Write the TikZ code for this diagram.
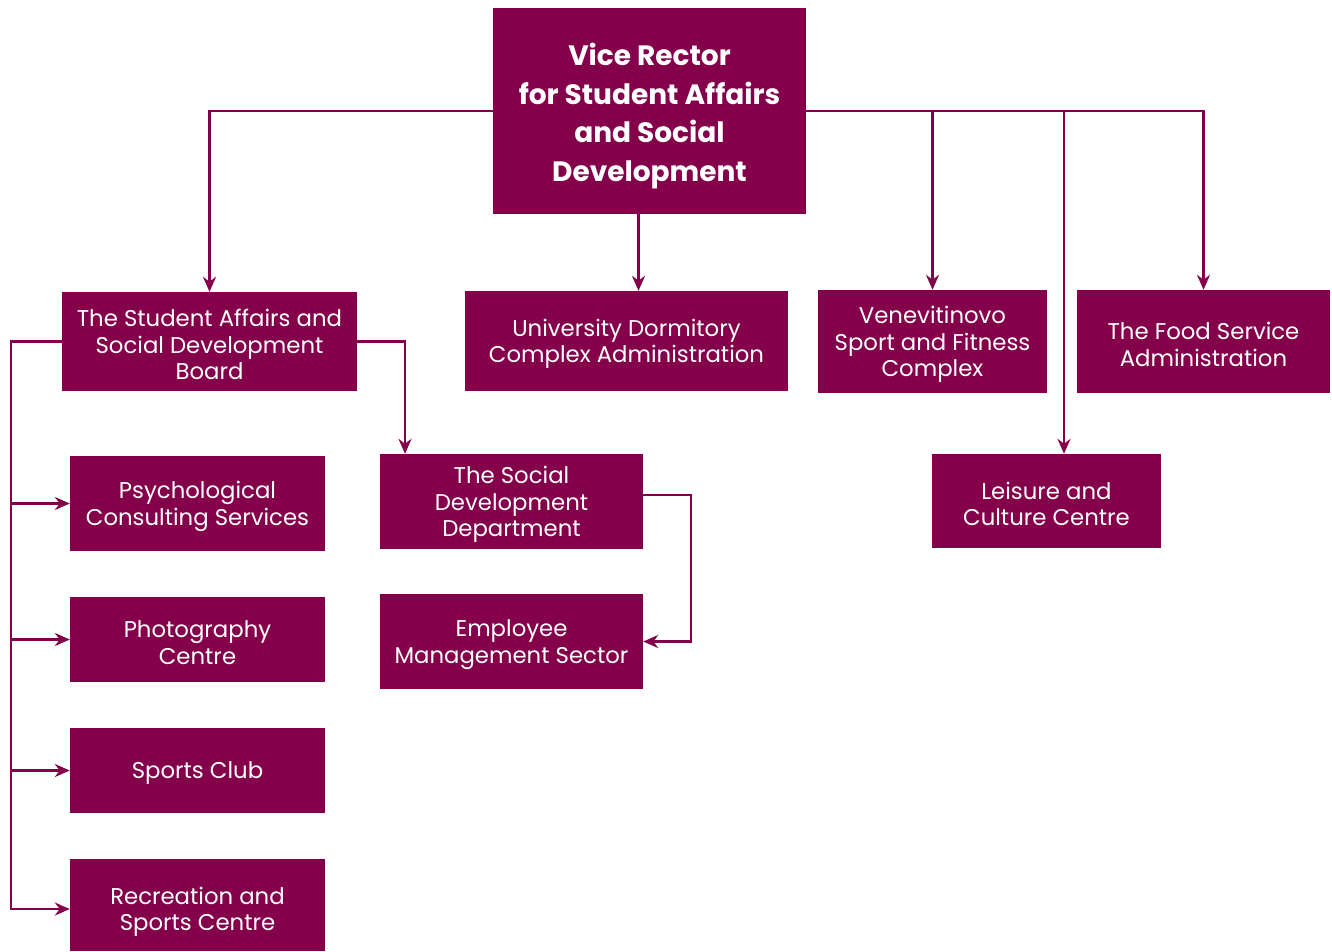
\documentclass[tikz,border=0pt]{standalone}
\usepackage{fontspec}
\setmainfont{Poppins}
\usetikzlibrary{arrows.meta}
\definecolor{plum}{RGB}{132,0,74}
\tikzset{
  box/.style={fill=plum, inner sep=0pt, anchor=center},
  txt/.style={text=white, align=center, inner sep=0pt, yshift=-3pt,
    font=\fontsize{22.8}{26.5}\selectfont},
  ttl/.style={text=white, align=center, inner sep=0pt, yshift=-5pt,
    font=\fontsize{28}{38.5}\selectfont\bfseries},
  conn/.style={draw=plum, line width=2.4pt},
  arr/.style={conn, -{Stealth[length=15pt, width=13pt, inset=5pt]}}
}
\begin{document}
\begin{tikzpicture}[x=1pt, y=-1pt]
\useasboundingbox (0,0) rectangle (1332,951);
% boxes
\node[box, minimum width=313pt, minimum height=206pt,
  label={[ttl]center:{Vice Rector\\for Student Affairs\\and Social\\Development}}] (vr) at (649.5,111) {};
\node[box, minimum width=295pt, minimum height=99pt,
  label={[txt]center:{The Student Affairs and\\Social Development\\Board}}] (sab) at (209.5,341.5) {};
\node[box, minimum width=323pt, minimum height=100pt,
  label={[txt]center:{University Dormitory\\Complex Administration}}] (dorm) at (626.5,341) {};
\node[box, minimum width=229pt, minimum height=103pt,
  label={[txt]center:{Venevitinovo\\Sport and Fitness\\Complex}}] (ven) at (932.5,341.5) {};
\node[box, minimum width=253pt, minimum height=103pt,
  label={[txt]center:{The Food Service\\Administration}}] (food) at (1203.5,341.5) {};
\node[box, minimum width=229pt, minimum height=94pt,
  label={[txt]center:{Leisure and\\Culture Centre}}] (leis) at (1046.5,501) {};
\node[box, minimum width=255pt, minimum height=95pt,
  label={[txt]center:{Psychological\\Consulting Services}}] (psy) at (197.5,503.5) {};
\node[box, minimum width=255pt, minimum height=85pt,
  label={[txt]center:{Photography\\Centre}}] (photo) at (197.5,639.5) {};
\node[box, minimum width=255pt, minimum height=85pt,
  label={[txt]center:{Sports Club}}] (club) at (197.5,770.5) {};
\node[box, minimum width=255pt, minimum height=92pt,
  label={[txt, yshift=-4pt]center:{Recreation and\\Sports Centre}}] (rec) at (197.5,905) {};
\node[box, minimum width=263pt, minimum height=95pt,
  label={[txt]center:{The Social\\Development\\Department}}] (sdd) at (511.5,501.5) {};
\node[box, minimum width=263pt, minimum height=95pt,
  label={[txt]center:{Employee\\Management Sector}}] (emp) at (511.5,641.5) {};
% helper coordinates
\coordinate (lx) at (1064,110);
\coordinate (bus) at (11,341.5);
\coordinate (sdx) at (405,341.5);
\coordinate (sdr) at (691,495);
% connectors from Vice Rector
\draw[arr] (vr.west) -| (sab.north);
\draw[arr] ([xshift=-11pt]vr.south) -- ([xshift=-11pt]vr.south |- dorm.north);
\draw[arr] (vr.east) -| (food.north);
\draw[arr] (vr.east -| ven.north) -- (ven.north);
\draw[arr] (lx) -- (lx |- leis.north);
% board to units
\draw[arr] (sab.west) -- (bus) |- ([yshift=-4pt]rec.west);
\draw[arr] (bus |- psy.west) -- (psy.west);
\draw[arr] (bus |- photo.west) -- (photo.west);
\draw[arr] (bus |- club.west) -- (club.west);
\draw[arr] (sab.east) -- (sdx) -- (sdx |- sdd.north);
\draw[arr] ([yshift=6.5pt]sdd.east) -- (sdr) |- (emp.east);
\end{tikzpicture}
\end{document}
